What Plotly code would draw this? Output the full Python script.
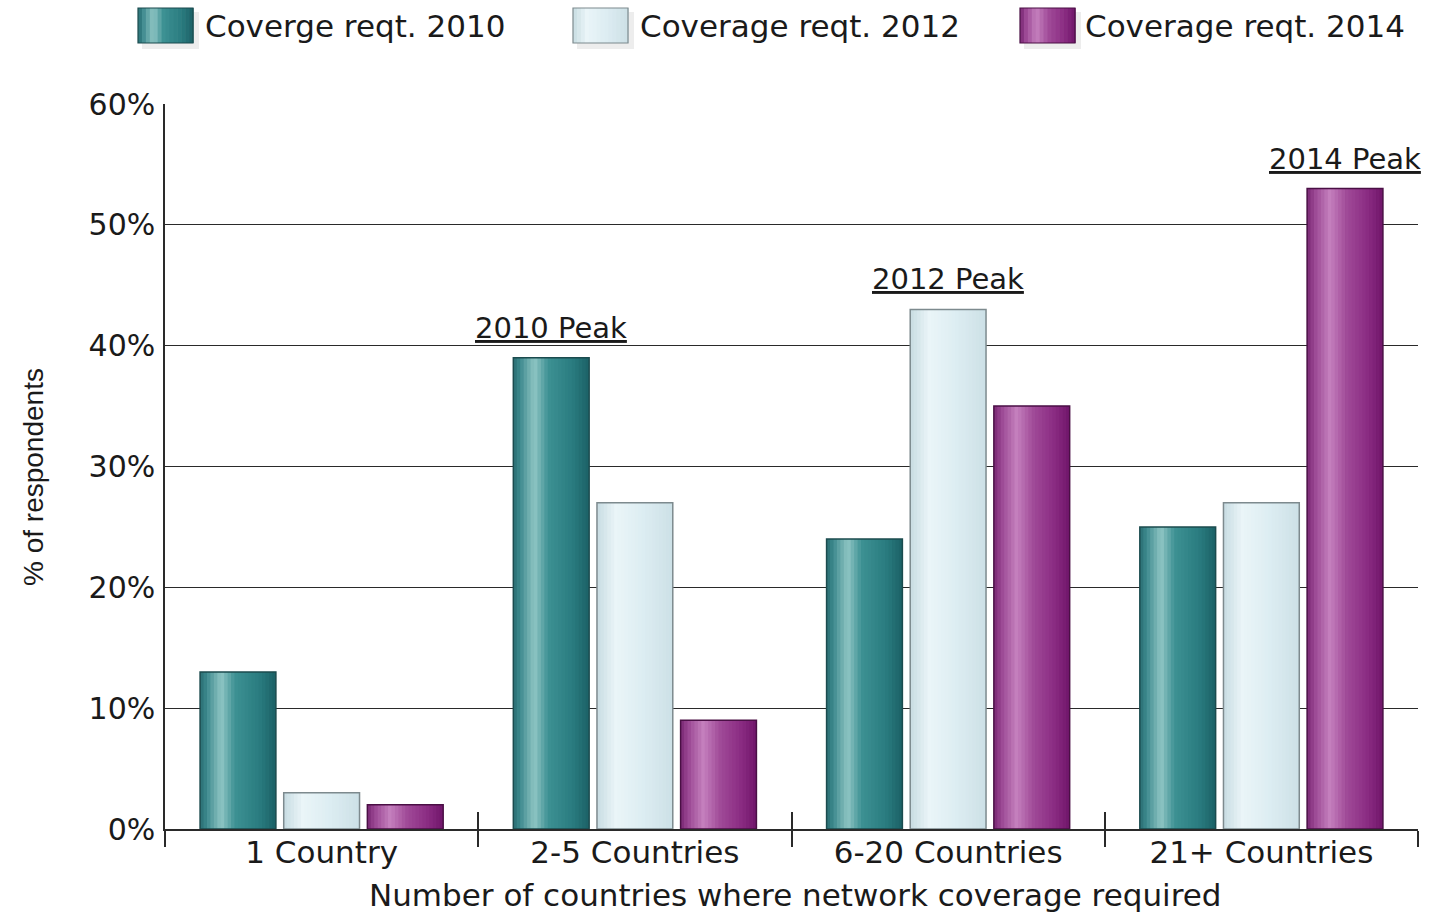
import plotly.graph_objects as go

# ---- data ----
categories = ["1 Country", "2-5 Countries", "6-20 Countries", "21+ Countries"]
series_names = ["Coverge reqt. 2010", "Coverage reqt. 2012", "Coverage reqt. 2014"]
values_2010 = [13, 39, 24, 25]
values_2012 = [3, 27, 43, 27]
values_2014 = [2, 9, 35, 53]
y_ticks = [0, 10, 20, 30, 40, 50, 60]
y_tick_labels = ["0%", "10%", "20%", "30%", "40%", "50%", "60%"]
peaks = [("2010 Peak", 0, 1), ("2012 Peak", 1, 2), ("2014 Peak", 2, 3)]  # (label, series, category)

series_values = [values_2010, values_2012, values_2014]

# ---- styling ----
FONT = "DejaVu Sans, Verdana, sans-serif"
NARROW = "Liberation Sans Narrow, Liberation Sans, Arial, sans-serif"
INK = "#1a1a1a"

# horizontal shading profiles that give each bar a rounded, cylinder-like look
profiles = [
    [(0.0, "#2a6e73"), (0.08, "#3a878b"), (0.28, "#8fc5c4"), (0.46, "#3d9193"),
     (0.78, "#2a7c80"), (1.0, "#1c6166")],
    [(0.0, "#c8dce2"), (0.25, "#eaf5f8"), (0.6, "#ddedf2"), (1.0, "#cce0e6")],
    [(0.0, "#7a2874"), (0.1, "#9a4793"), (0.3, "#c580be"), (0.52, "#a04b98"),
     (0.8, "#8a2b82"), (1.0, "#70166a")],
]
outline_colors = ["#1b4b4e", "#7d8a8e", "#4a0f45"]


def hex_to_rgb(h):
    h = h.lstrip("#")
    return tuple(int(h[i:i + 2], 16) for i in (0, 2, 4))


def shade(profile, t):
    for (t0, c0), (t1, c1) in zip(profile, profile[1:]):
        if t0 <= t <= t1:
            f = 0 if t1 == t0 else (t - t0) / (t1 - t0)
            a, b = hex_to_rgb(c0), hex_to_rgb(c1)
            return "rgb({},{},{})".format(*[round(a[i] + (b[i] - a[i]) * f) for i in range(3)])
    return profile[-1][1]


x_idx = list(range(len(categories)))
bar_w = 0.242
slot = 0.267
first_left = -0.388
n_strips = 22

fig = go.Figure()

for s, vals in enumerate(series_values):
    left = first_left + s * slot
    sw = bar_w / n_strips
    for k in range(n_strips):
        t = (k + 0.5) / n_strips
        # each strip overlaps its right neighbour slightly so no seams show
        width = sw * 1.6 if k < n_strips - 1 else sw
        fig.add_trace(go.Bar(
            x=x_idx, y=vals, offset=left + k * sw, width=width,
            marker=dict(color=shade(profiles[s], t), line=dict(width=0)),
            showlegend=False, hoverinfo="skip",
        ))
    # outline of the whole bar
    fig.add_trace(go.Bar(
        x=x_idx, y=vals, offset=left, width=bar_w, name=series_names[s],
        marker=dict(color="rgba(0,0,0,0)", line=dict(color=outline_colors[s], width=1.5)),
        showlegend=False, hovertemplate="%{y}%<extra>" + series_names[s] + "</extra>",
    ))

# peak call-outs above the tallest bar of each series
annotations = []
for label, s, c in peaks:
    annotations.append(dict(
        x=c + first_left + s * slot + bar_w / 2, y=series_values[s][c],
        xref="x", yref="y", text="<u>" + label + "</u>", showarrow=False,
        yanchor="bottom", yshift=11, font=dict(family=FONT, size=29, color=INK),
    ))

# plot-area geometry in pixels (used to place legend and titles in paper space)
W, H = 1431, 913
L, R, T, B = 165, 13, 104, 84
pw, ph = W - L - R, H - T - B


def px(xp):
    return (xp - L) / pw


def py(yp):
    return (H - B - yp) / ph


# axis titles
annotations.append(dict(
    x=0.5, y=0, xref="paper", yref="paper", text="Number of countries where network coverage required",
    showarrow=False, yanchor="middle", yshift=-66, xshift=4,
    font=dict(family=FONT, size=31, color=INK),
))
annotations.append(dict(
    x=px(33), y=py(477), xref="paper", yref="paper", text="% of respondents",
    showarrow=False, textangle=-90, xanchor="center", yanchor="middle",
    font=dict(family=NARROW, size=28, color=INK),
))

# legend along the top
shapes = []
legend_items = [(138, 203), (573, 638), (1020, 1083)]
sw_w, sw_top, sw_bot = 55, 8, 43
n_leg = 14
for s, (x0, tx) in enumerate(legend_items):
    # soft drop shadow
    shapes.append(dict(type="rect", xref="paper", yref="paper",
                       x0=px(x0 + 4), x1=px(x0 + sw_w + 6), y0=py(sw_bot + 6), y1=py(sw_top + 4),
                       fillcolor="rgba(0,0,0,0.07)", line=dict(width=0), layer="above"))
    step = sw_w / n_leg
    for k in range(n_leg):
        shapes.append(dict(type="rect", xref="paper", yref="paper",
                           x0=px(x0 + k * step), x1=px(x0 + (k + 1) * step + 0.6),
                           y0=py(sw_bot), y1=py(sw_top),
                           fillcolor=shade(profiles[s], (k + 0.5) / n_leg),
                           line=dict(width=0), layer="above"))
    shapes.append(dict(type="rect", xref="paper", yref="paper",
                       x0=px(x0), x1=px(x0 + sw_w), y0=py(sw_bot), y1=py(sw_top),
                       fillcolor="rgba(0,0,0,0)", line=dict(color=outline_colors[s], width=1.2),
                       layer="above"))
    annotations.append(dict(
        x=px(tx), y=py((sw_top + sw_bot) / 2 + 1), xref="paper", yref="paper",
        text=series_names[s], showarrow=False, xanchor="left", yanchor="middle",
        font=dict(family=FONT, size=31, color=INK),
    ))

fig.update_layout(
    width=W, height=H,
    margin=dict(l=L, r=R, t=T, b=B, autoexpand=False),
    paper_bgcolor="white", plot_bgcolor="white",
    barmode="overlay", showlegend=False,
    annotations=annotations, shapes=shapes,
    xaxis=dict(
        range=[-0.5, 3.5], tickmode="array", tickvals=x_idx, ticktext=categories,
        ticks="", showgrid=False, zeroline=False,
        showline=True, linecolor="#2a2a2a", linewidth=1.5,
        tickfont=dict(family=FONT, size=31, color=INK),
        ticklabelstandoff=-5,
        minor=dict(ticks="outside", tick0=0.5, dtick=1, ticklen=16,
                   tickcolor="#2a2a2a", tickwidth=1.5, showgrid=False),
        fixedrange=True,
    ),
    xaxis2=dict(
        overlaying="x", anchor="y", side="bottom", range=[-0.5, 3.5],
        tickmode="array", tickvals=[-0.5, 0.5, 1.5, 2.5, 3.5], ticks="inside",
        ticklen=17, tickwidth=1.5, tickcolor="#2a2a2a",
        showticklabels=False, showgrid=False, zeroline=False, showline=False,
    ),
    yaxis=dict(
        range=[0, 60], tickmode="array", tickvals=y_ticks, ticktext=y_tick_labels,
        showgrid=True, gridcolor="#2a2a2a", gridwidth=1.4, zeroline=False,
        showline=True, linecolor="#2a2a2a", linewidth=1.5, ticks="",
        ticklabelstandoff=2,
        tickfont=dict(family=FONT, size=30, color=INK), fixedrange=True,
    ),
)

# invisible trace to activate the overlay axis carrying the in-plot boundary ticks
fig.add_trace(go.Scatter(x=[-0.5], y=[0], xaxis="x2", mode="markers",
                         marker=dict(opacity=0), showlegend=False, hoverinfo="skip"))

fig.write_html("out.html")
